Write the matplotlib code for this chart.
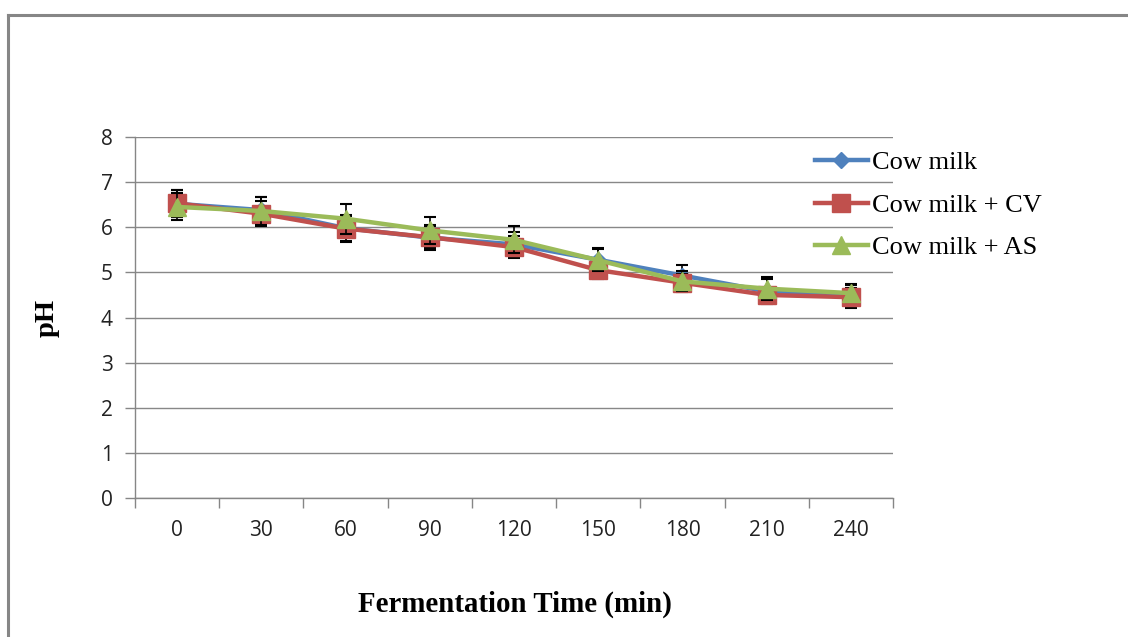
import numpy as np
import matplotlib.pyplot as plt
from matplotlib.lines import Line2D

# fermentation time categories (min)
times = ['0', '30', '60', '90', '120', '150', '180', '210', '240']

# pH readings per sample
cow = [6.52, 6.38, 5.98, 5.77, 5.62, 5.28, 4.93, 4.58, 4.47]
cow_cv = [6.53, 6.30, 5.97, 5.78, 5.56, 5.05, 4.77, 4.50, 4.45]
cow_as = [6.45, 6.36, 6.19, 5.93, 5.72, 5.27, 4.80, 4.64, 4.54]

# standard deviations
cow_err = [0.30, 0.30, 0.30, 0.28, 0.28, 0.25, 0.24, 0.28, 0.25]
cv_err = [0.30, 0.28, 0.28, 0.25, 0.25, 0.20, 0.20, 0.16, 0.20]
as_err = [0.30, 0.32, 0.33, 0.30, 0.30, 0.25, 0.22, 0.26, 0.20]

fig = plt.figure(figsize=(11.28, 6.37), dpi=100)
ax = fig.add_axes([135/1128, 1 - 498/637, (893-135)/1128, (498-137)/637])

# outer chart border (only top and left visible)
fig.add_artist(Line2D([8/1128, 8/1128], [0, 1 - 15/637], color='#868686', lw=2.2))
fig.add_artist(Line2D([8/1128, 1], [1 - 15/637, 1 - 15/637], color='#868686', lw=2.2))

x = np.arange(len(times))
series = [
    (cow, cow_err, 'Cow milk', '#4F81BD', 'D', 8),
    (cow_cv, cv_err, 'Cow milk + CV', '#C0504D', 's', 13),
    (cow_as, as_err, 'Cow milk + AS', '#9BBB59', '^', 13),
]
for i, (vals, err, lab, col, mk, ms) in enumerate(series):
    ax.errorbar(x, vals, yerr=err, fmt='none', ecolor='black', elinewidth=1.2,
                capsize=4.5, capthick=1.5, zorder=2 + i)
    ax.plot(x, vals, color=col, lw=3.2, marker=mk, markersize=ms,
            label=lab, zorder=3 + i)

ax.set_xlim(-0.5, len(times) - 0.5)
ax.set_ylim(0, 8)
ax.set_yticks(range(0, 9))
ax.set_xticks(x)
ax.set_xticklabels(times)
ax.set_xticks(np.arange(-0.5, len(times)), minor=True)
ax.tick_params(axis='x', which='major', length=0, pad=16, labelsize=15)
ax.tick_params(axis='x', which='minor', length=7, color='#868686', width=1)
ax.tick_params(axis='y', length=7, color='#868686', width=1, pad=9, labelsize=15)
for t in ax.get_xticklabels() + ax.get_yticklabels():
    t.set_fontfamily('Open Sans')
    t.set_color('#222222')

ax.grid(axis='y', color='#888888', lw=1)
ax.set_axisbelow(True)
for s in ['top', 'right']:
    ax.spines[s].set_visible(False)
for s in ['left', 'bottom']:
    ax.spines[s].set_color('#868686')
    ax.spines[s].set_linewidth(1)

fig.text(515/1128, 1 - 604/637, 'Fermentation Time (min)', ha='center', va='center',
         fontsize=20.8, fontweight='bold', family='Liberation Serif')
fig.text(47/1128, 1 - 318/637, 'pH', ha='center', va='center', rotation=90,
         fontsize=20.5, fontweight='bold', family='Liberation Serif')

ax.legend(loc='upper left', bbox_to_anchor=(815/1128, 1 - 151/637),
          bbox_transform=fig.transFigure, frameon=False,
          prop={'family': 'Liberation Serif', 'size': 19},
          handlelength=2.0, handletextpad=0.15, labelspacing=0.72,
          borderaxespad=0, borderpad=0)

fig.savefig('out.png', dpi=100)
